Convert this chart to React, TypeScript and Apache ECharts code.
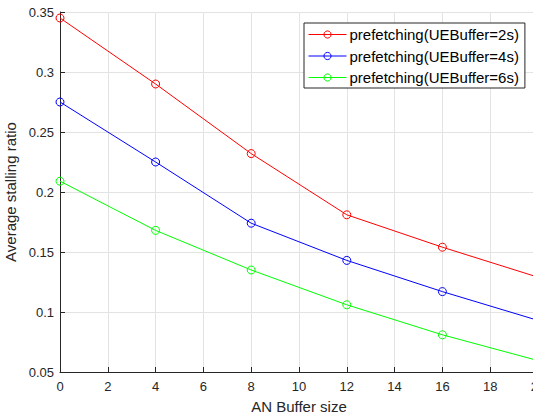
import React, { useEffect, useRef } from "react";
import * as echarts from "echarts";

const xValues = [0, 4, 8, 12, 16, 20];
const seriesNames = [
  "prefetching(UEBuffer=2s)",
  "prefetching(UEBuffer=4s)",
  "prefetching(UEBuffer=6s)",
];
const ue2 = [0.345, 0.29, 0.232, 0.181, 0.154, 0.129];
const ue4 = [0.275, 0.225, 0.174, 0.143, 0.117, 0.093];
const ue6 = [0.209, 0.168, 0.135, 0.106, 0.081, 0.0595];
const colors = ["#ff0000", "#0000ff", "#00ff00"];

const FONT = "'Liberation Sans', Arial, Helvetica, sans-serif";
const TXT = "#262626";

export default function App() {
  const ref = useRef<HTMLDivElement>(null);
  useEffect(() => {
    if (!ref.current) return;
    const chart = echarts.init(ref.current, undefined, { renderer: "svg" });
    const all = [ue2, ue4, ue6];
    chart.setOption({
      animation: false,
      backgroundColor: "#ffffff",
      textStyle: { fontFamily: FONT },
      grid: {
        left: 60,
        top: 12,
        width: 478,
        height: 360,
        containLabel: false,
        outerBoundsMode: "none",
      },
      legend: {
        orient: "vertical",
        left: 304,
        top: 23,
        padding: [3, 6, 2, 4],
        itemGap: 4.5,
        itemWidth: 38,
        itemHeight: 9,
        borderColor: TXT,
        borderWidth: 1,
        backgroundColor: "#ffffff",
        itemStyle: { borderWidth: 1 },
        lineStyle: { width: 1 },
        textStyle: {
          fontSize: 15,
          color: "#000000",
          fontFamily: FONT,
          lineHeight: 17,
          padding: [0, 0, 0, -2],
        },
        data: seriesNames,
      },
      xAxis: {
        type: "value",
        min: 0,
        max: 20,
        interval: 2,
        name: "AN Buffer size",
        nameLocation: "middle",
        nameGap: 27,
        nameTextStyle: { fontSize: 15, color: TXT, fontFamily: FONT },
        axisLine: { show: true, onZero: false, lineStyle: { color: TXT, width: 1 } },
        axisTick: { show: true, inside: true, length: 5, lineStyle: { color: TXT } },
        axisLabel: { fontSize: 13, color: TXT, margin: 8, fontFamily: FONT, hideOverlap: false },
        splitLine: { show: true, lineStyle: { color: "#e3e3e3", width: 1 } },
      },
      yAxis: {
        type: "value",
        min: 0.05,
        max: 0.35,
        interval: 0.05,
        name: "Average stalling ratio",
        nameLocation: "middle",
        nameGap: 36,
        nameTextStyle: { fontSize: 15, color: TXT, fontFamily: FONT },
        axisLine: { show: true, onZero: false, lineStyle: { color: TXT, width: 1 } },
        axisTick: { show: true, inside: true, length: 5, lineStyle: { color: TXT } },
        axisLabel: {
          fontSize: 13,
          color: TXT,
          margin: 6,
          fontFamily: FONT,
          formatter: (v: number) => String(+v.toFixed(2)),
        },
        splitLine: { show: true, lineStyle: { color: "#e3e3e3", width: 1 } },
      },
      series: seriesNames.map((name, i) => ({
        name,
        type: "line",
        data: xValues.map((x, j) => [x, all[i][j]]),
        symbol: "circle",
        symbolSize: 8,
        showAllSymbol: true,
        clip: false,
        lineStyle: { color: colors[i], width: 1 },
        itemStyle: { color: "rgba(255,255,255,0)", borderColor: colors[i], borderWidth: 1 },
      })),
    });
    return () => chart.dispose();
  }, []);
  return (
    <div
      ref={ref}
      style={{ position: "absolute", left: 0, top: 0, width: 533, height: 419 }}
    />
  );
}
